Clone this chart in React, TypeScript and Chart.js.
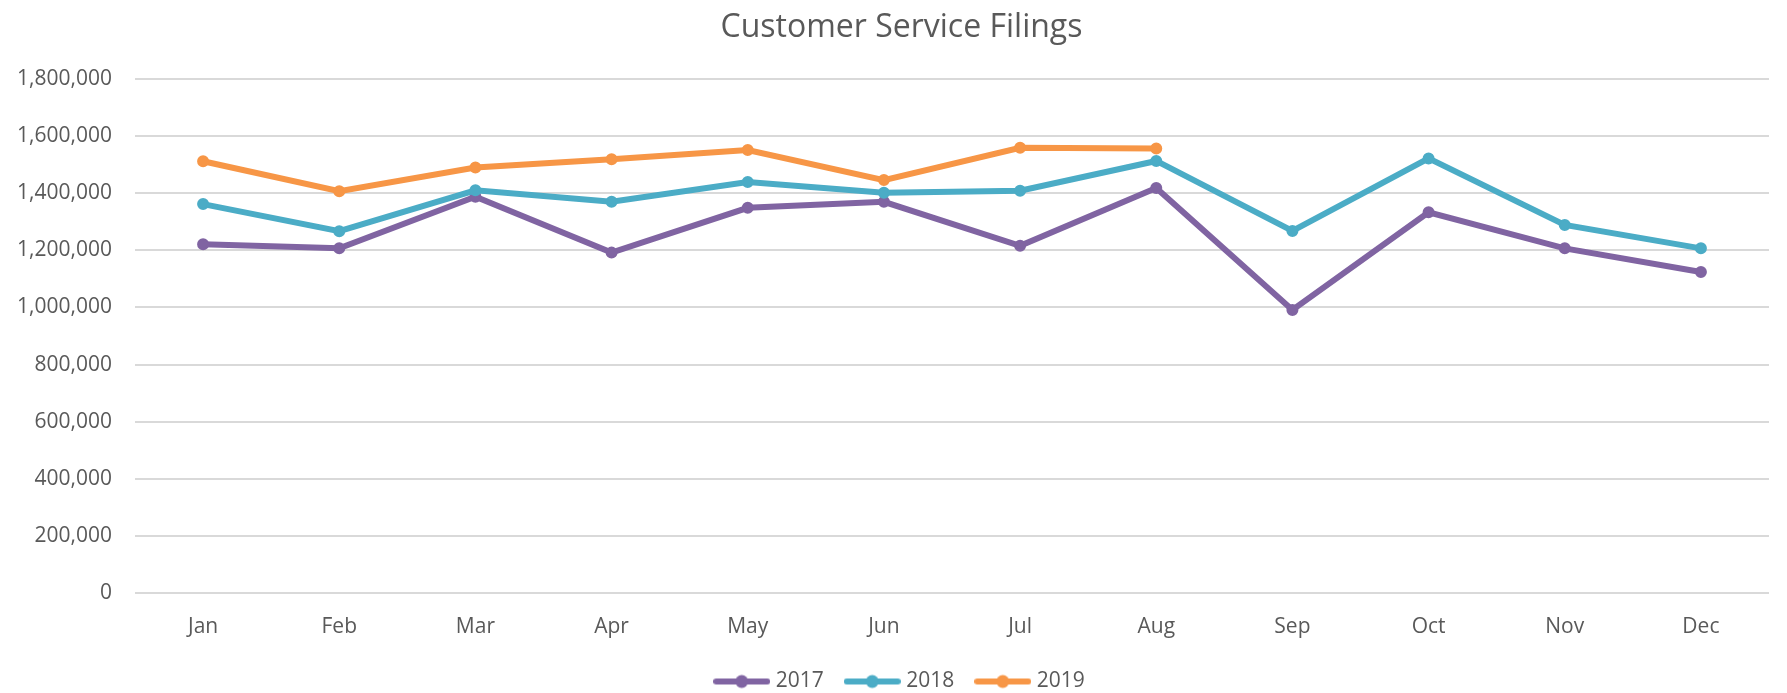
import React, { useEffect, useRef } from "react";
import { Chart, registerables } from "chart.js";

Chart.register(...registerables);

const months = ["Jan", "Feb", "Mar", "Apr", "May", "Jun", "Jul", "Aug", "Sep", "Oct", "Nov", "Dec"];
const seriesNames = ["2017", "2018", "2019"];
const values2017 = [1221000, 1207000, 1388000, 1192000, 1349000, 1370000, 1216000, 1418000, 991000, 1333000, 1207000, 1124000];
const values2018 = [1362000, 1267000, 1410000, 1370000, 1439000, 1402000, 1409000, 1513000, 1268000, 1522000, 1289000, 1207000];
const values2019 = [1512000, 1407000, 1490000, 1519000, 1551000, 1446000, 1559000, 1557000, null, null, null, null];
const seriesColors = ["#8064A2", "#4BACC6", "#F79646"];
const yMin = 0;
const yMax = 1800000;
const yStep = 200000;
const chartTitle = "Customer Service Filings";

const FONT = "'Open Sans', 'Noto Sans', sans-serif";
const TEXT = "#595959";

function legendMarker(color: string): HTMLCanvasElement {
  const c = document.createElement("canvas");
  c.width = 57;
  c.height = 16;
  const ctx = c.getContext("2d")!;
  ctx.strokeStyle = color;
  ctx.lineWidth = 6;
  ctx.lineCap = "round";
  ctx.beginPath();
  ctx.moveTo(3, 8);
  ctx.lineTo(54, 8);
  ctx.stroke();
  ctx.fillStyle = color;
  ctx.beginPath();
  ctx.arc(28.5, 8, 6.5, 0, Math.PI * 2);
  ctx.fill();
  return c;
}

export default function App() {
  const ref = useRef<HTMLCanvasElement | null>(null);

  useEffect(() => {
    if (!ref.current) return;
    const allValues = [values2017, values2018, values2019];
    const markers = seriesColors.map((c) => legendMarker(c));
    const chart = new Chart(ref.current, {
      type: "line",
      data: {
        labels: months,
        datasets: allValues.map((vals, i) => ({
          label: seriesNames[i],
          data: vals,
          yAxisID: "y",
          borderColor: seriesColors[i],
          backgroundColor: seriesColors[i],
          pointBackgroundColor: seriesColors[i],
          pointBorderColor: seriesColors[i],
          borderWidth: 6,
          pointRadius: 5,
          pointBorderWidth: 2,
          pointStyle: "circle",
          tension: 0,
          fill: false,
          spanGaps: false,
          order: allValues.length - i,
        })),
      },
      options: {
        animation: false,
        responsive: false,
        maintainAspectRatio: false,
        devicePixelRatio: 1,
        layout: { padding: { left: 16, right: 0, top: 0, bottom: 0 } },
        plugins: {
          title: {
            display: true,
            text: chartTitle,
            color: TEXT,
            font: { family: FONT, size: 32, weight: "normal", lineHeight: 1.2 },
            padding: { top: 8.5, bottom: 32.1 },
          },
          legend: {
            display: true,
            position: "bottom",
            labels: {
              color: TEXT,
              font: { family: FONT, size: 21 },
              usePointStyle: true,
              pointStyleWidth: 47,
              padding: 25,
              sort: (a: any, b: any) => a.datasetIndex - b.datasetIndex,
              generateLabels: (ch: any) => {
                const items = Chart.defaults.plugins.legend.labels.generateLabels(ch);
                return items.map((it: any) => ({ ...it, pointStyle: markers[it.datasetIndex] }));
              },
            },
          },
          tooltip: { enabled: false },
        },
        scales: {
          x: {
            offset: true,
            grid: { display: false, drawTicks: false },
            border: { display: false },
            ticks: {
              color: TEXT,
              font: { family: FONT, size: 21, lineHeight: 1.2 },
              padding: 21.4,
              maxRotation: 0,
            },
            afterFit: (s: any) => {
              s.height = 53;
            },
          },
          y: {
            position: "left",
            min: yMin,
            max: yMax,
            grid: { color: "#D9D9D9", lineWidth: 2, drawTicks: false },
            border: { display: false },
            ticks: {
              stepSize: yStep,
              color: TEXT,
              font: { family: FONT, size: 21 },
              padding: 23,
              callback: (v: any) => Number(v).toLocaleString("en-US"),
            },
            afterFit: (s: any) => {
              s.width = 119;
            },
          },
          yRight: {
            position: "right",
            display: true,
            grid: { display: false, drawTicks: false },
            border: { display: false },
            ticks: { display: false },
            afterFit: (s: any) => {
              s.width = 18;
            },
          },
        },
      } as any,
    });
    return () => chart.destroy();
  }, []);

  return (
    <div
      style={{
        position: "fixed",
        left: 0,
        top: 0,
        width: 1787,
        height: 693,
        overflow: "hidden",
        background: "#ffffff",
      }}
    >
      <canvas ref={ref} width={1787} height={702} style={{ display: "block", width: 1787, height: 702 }} />
    </div>
  );
}
